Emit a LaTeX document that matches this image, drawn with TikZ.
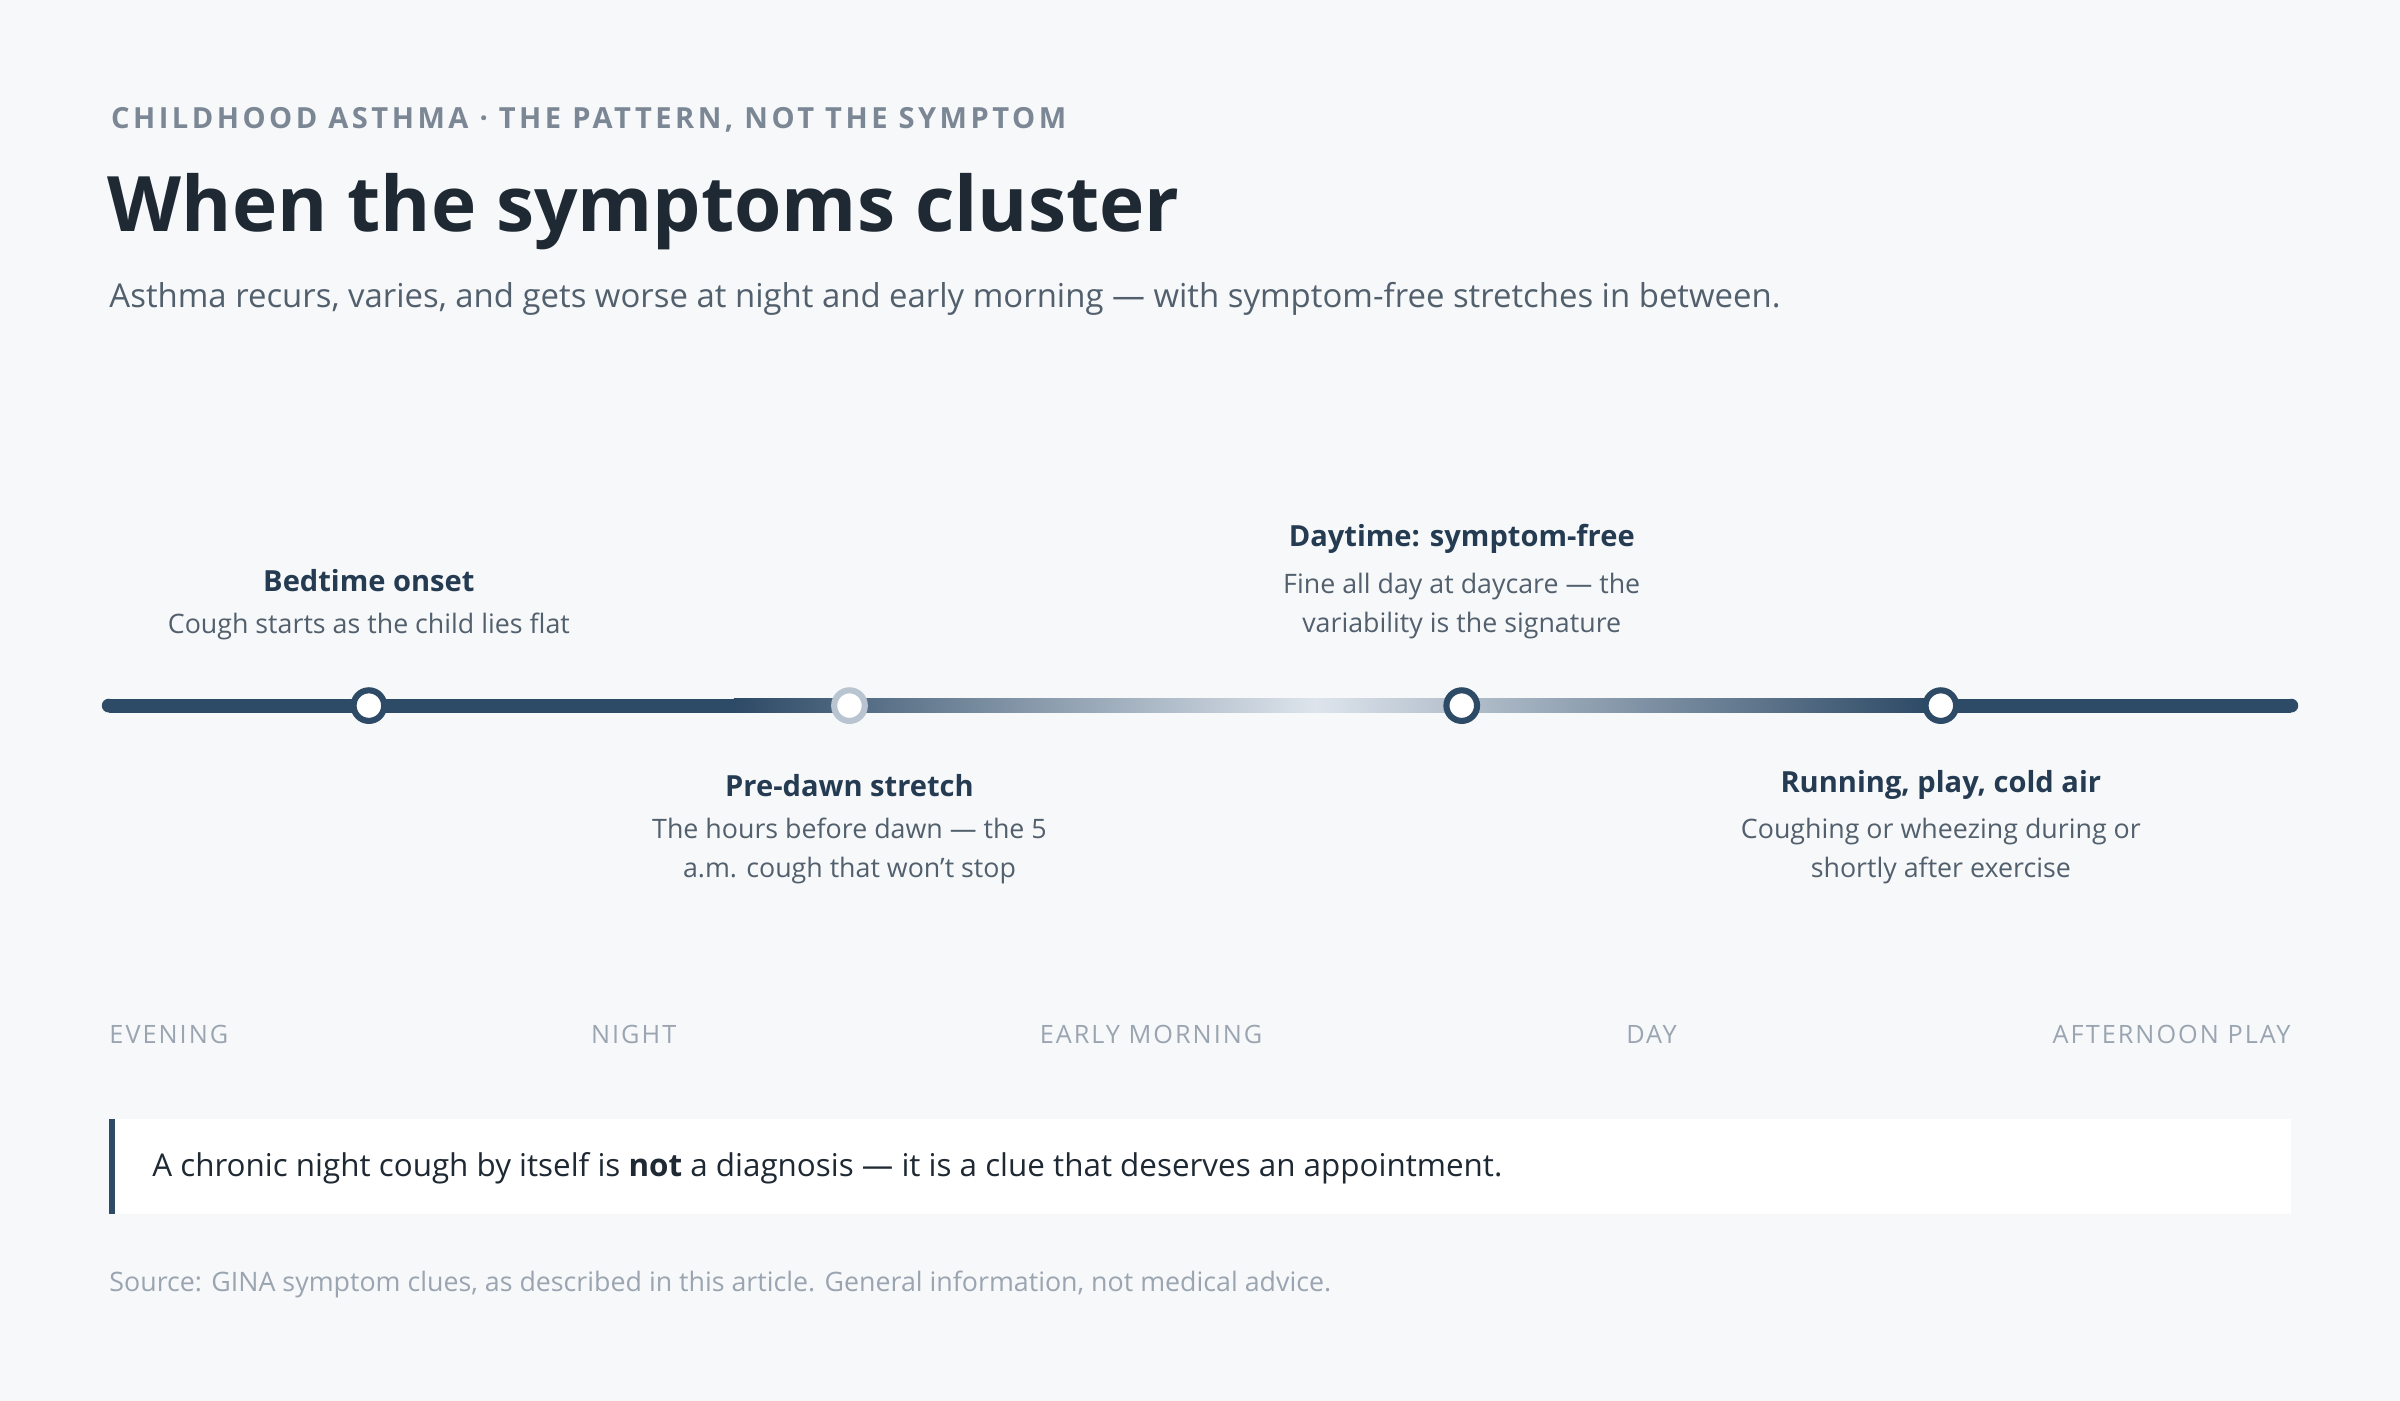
\documentclass[tikz,border=0pt]{standalone}
\usepackage{fontspec}
\setmainfont{Open Sans}
\definecolor{bg}{HTML}{F7F8FA}
\definecolor{ink}{HTML}{1F2933}
\definecolor{navy}{HTML}{2D4A66}
\definecolor{pale}{HTML}{DDE4EC}
\definecolor{mid}{HTML}{52606D}
\definecolor{soft}{HTML}{7B8794}
\definecolor{faint}{HTML}{9AA5B1}
\definecolor{ring}{HTML}{B8C4D0}
\begin{document}
\begin{tikzpicture}[x=1pt,y=-1pt,
  lab/.style={font=\fontsize{19}{22}\selectfont\bfseries, text=navy!80!black, anchor=center},
  desc/.style={font=\fontsize{17.5}{25.5}\selectfont, text=mid, align=center, anchor=center},
  axis/.style={font=\fontsize{16.5}{20}\selectfont\addfontfeatures{LetterSpace=8}, text=faint},
  dot/.style={circle, fill=white, draw=navy, line width=4pt, minimum size=20pt, inner sep=0pt}]
\useasboundingbox[fill=bg] (0,0) rectangle (1568,915);
\node[anchor=west, font=\fontsize{19}{22}\selectfont\bfseries\addfontfeatures{LetterSpace=12}, text=soft] (kick) at (69,78) {CHILDHOOD ASTHMA · THE PATTERN, NOT THE SYMPTOM};
\node[anchor=west, font=\fontsize{50}{56}\selectfont\bfseries, text=ink] (title) at (67,138) {When the symptoms cluster};
\node[anchor=west, font=\fontsize{21.5}{26}\selectfont, text=mid] (sub) at (68,195) {Asthma recurs, varies, and gets worse at night and early morning — with symptom-free stretches in between.};
% timeline
\fill[navy] (71,461) circle (4.5pt);
\fill[navy] (1497,461) circle (4.5pt);
\fill[navy] (71,456.5) rectangle (480,465.5);
\shade[left color=navy, right color=pale] (479.5,456.5) rectangle (860,465.5);
\shade[left color=pale, right color=navy] (859.5,456.5) rectangle (1260,465.5);
\fill[navy] (1259.5,456.5) rectangle (1497,465.5);
\node[dot] (m1) at (241,461) {};
\node[dot, draw=ring] (m2) at (555,461) {};
\node[dot] (m3) at (955,461) {};
\node[dot] (m4) at (1268,461) {};
\node[lab] (l1) at (241,379) {Bedtime onset};
\node[desc] (d1) at (241,409) {Cough starts as the child lies flat};
\node[lab] (l3) at (955,352) {Daytime: symptom-free};
\node[desc] (d3) at (955,396) {Fine all day at daycare — the\\variability is the signature};
\node[lab] (l2) at (555,513) {Pre-dawn stretch};
\node[desc] (d2) at (555,556) {The hours before dawn — the 5\\a.m. cough that won’t stop};
\node[lab] (l4) at (1268,513) {Running, play, cold air};
\node[desc] (d4) at (1268,556) {Coughing or wheezing during or\\shortly after exercise};
% axis
\node[axis, anchor=west] (a1) at (68,676) {EVENING};
\node[axis] (a2) at (414,676) {NIGHT};
\node[axis] (a3) at (752,676) {EARLY MORNING};
\node[axis] (a4) at (1079,676) {DAY};
\node[axis, anchor=east] (a5) at (1500,676) {AFTERNOON PLAY};
% callout
\fill[white] (71,731) rectangle (1497,793);
\fill[navy] (71,731) rectangle (75,793);
\node[anchor=west, font=\fontsize{20.5}{24}\selectfont, text=ink] (note) at (96,763) {A chronic night cough by itself is \textbf{not} a diagnosis — it is a clue that deserves an appointment.};
\node[anchor=west, font=\fontsize{17.5}{22}\selectfont, text=faint] (src) at (68,839) {Source: GINA symptom clues, as described in this article. General information, not medical advice.};
\end{tikzpicture}
\end{document}
